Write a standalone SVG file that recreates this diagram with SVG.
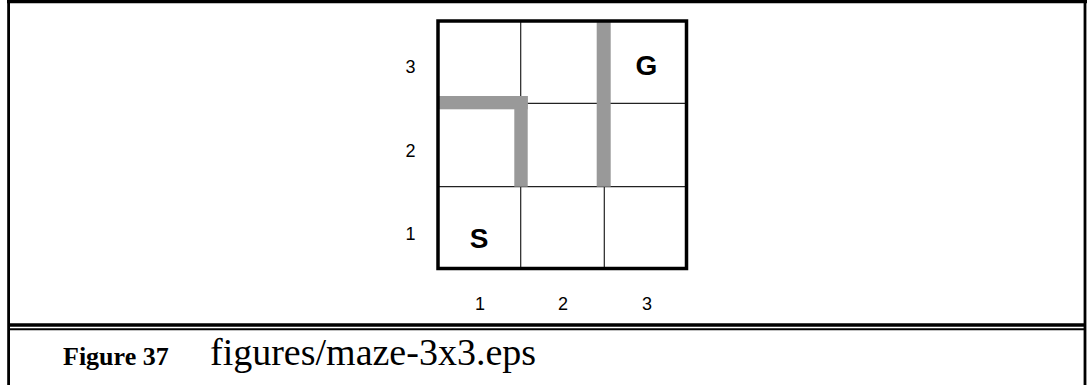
<svg xmlns="http://www.w3.org/2000/svg" width="1087" height="385" viewBox="0 0 1087 385">
<style>
.rule{stroke:#000}
.grid{stroke:#222;stroke-width:1.2}
.wall{fill:#999999}
.border{fill:none;stroke:#000;stroke-width:3.5}
.lbl{font-family:"Liberation Sans",Arial,sans-serif;font-size:18px;fill:#000;text-anchor:middle}
.big{font-family:"Liberation Sans",Arial,sans-serif;font-size:28px;font-weight:bold;fill:#000;text-anchor:middle}
.cap{font-family:"Liberation Serif","Times New Roman",serif;fill:#000}
</style>
<rect width="1087" height="385" fill="#fff"/>
<g id="frame">
<line class="rule" x1="7" y1="1.6" x2="1087" y2="1.6" stroke-width="3.2"/>
<line class="rule" x1="8.6" y1="0" x2="8.6" y2="385" stroke-width="2.8"/>
<line class="rule" x1="1085" y1="0" x2="1085" y2="385" stroke-width="2.8"/>
<line class="rule" x1="8.6" y1="325" x2="1085" y2="325" stroke-width="3.3"/>
<line class="rule" x1="8.6" y1="329.3" x2="1085" y2="329.3" stroke-width="2"/>
</g>
<g id="maze">
<line class="grid" x1="520.7" y1="20" x2="520.7" y2="270"/>
<line class="grid" x1="604.3" y1="20" x2="604.3" y2="270"/>
<line class="grid" x1="437" y1="103.3" x2="687" y2="103.3"/>
<line class="grid" x1="437" y1="186.7" x2="687" y2="186.7"/>
<rect class="wall" x="437" y="96" width="90.7" height="13.3"/>
<rect class="wall" x="514.3" y="96" width="13.4" height="90.7"/>
<rect class="wall" x="596.7" y="20" width="14" height="166.7"/>
<rect class="border" x="438" y="21" width="248.5" height="247.5"/>
</g>
<g id="cell-S"><text class="big" x="479" y="248">S</text></g>
<g id="cell-G"><text class="big" x="646.5" y="75">G</text></g>
<g id="row-labels">
<text class="lbl" x="410.5" y="72.5">3</text>
<text class="lbl" x="410.5" y="156.5">2</text>
<text class="lbl" x="410.5" y="240">1</text>
</g>
<g id="col-labels">
<text class="lbl" x="480" y="310">1</text>
<text class="lbl" x="563" y="310">2</text>
<text class="lbl" x="647" y="310">3</text>
</g>
<g id="caption">
<text class="cap" x="63" y="365" font-size="26" font-weight="bold">Figure 37</text>
<text class="cap" x="210" y="365" font-size="38">figures/maze-3x3.eps</text>
</g>
</svg>
